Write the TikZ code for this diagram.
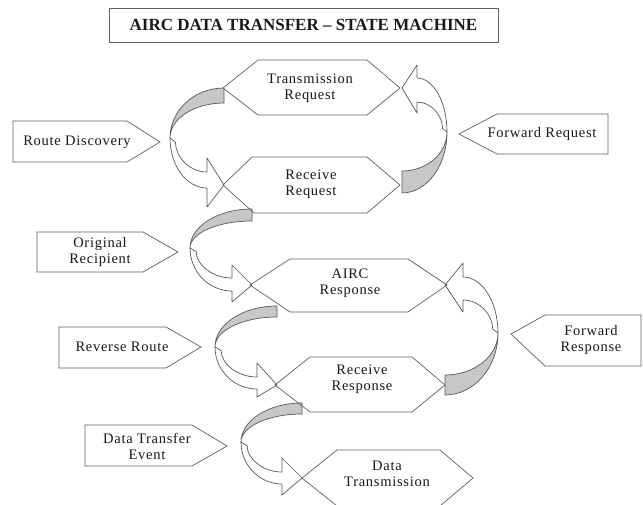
\documentclass[tikz,border=0pt]{standalone}
\usepackage{fontspec}
\setmainfont{Liberation Serif}
\newfontfamily\labelfont[LetterSpace=5]{Liberation Serif}

\newcommand{\bandarrow}[6]{\def\Axs{#1}\def\Ays{#2}\def\At{#3}\def\Axl{#4}\def\Aym{#5}\def\Axb{#6}\bandarrowB}
\newcommand{\bandarrowB}[5]{\def\Ayin{#1}\def\Ayout{#2}\def\Ahout{#3}\def\Ahin{#4}\def\Ayt{#5}\bandarrowdraw}
\newcommand{\bandarrowdraw}{%
  \pgfmathsetmacro\cA{\Axs-0.552*(\Axs-\Axl)}%
  \pgfmathsetmacro\cB{\Aym-0.552*(\Aym-\Ays)}%
  \pgfmathsetmacro\cC{\Aym-0.552*(\Aym-\Ays-\At)}%
  \pgfmathsetmacro\Aysb{\Ays+\At}%
  \pgfmathsetmacro\cD{\Aym+0.552*(\Ayout-\Aym)}%
  \pgfmathsetmacro\cE{\Axb-0.552*(\Axb-\Axl)}%
  \pgfmathsetmacro\Axlp{\Axl+0.1*(\Axs-\Axl)}%
  \pgfmathsetmacro\Aymp{\Aym+0.12*(\Ayin-\Aym)}%
  \pgfmathsetmacro\cF{\Aymp+0.5*(\Ayin-\Aymp)}%
  \pgfmathsetmacro\cG{\Axb-0.552*(\Axb-\Axlp)}%
  \filldraw[graypart] (\Axs,\Ays) .. controls (\cA,\Ays) and (\Axl,\cB) .. (\Axl,\Aym)
     .. controls (\Axl,\cC) and (\cA,\Aysb) .. (\Axs,\Aysb) -- cycle;
  \filldraw[whitepart] (\Axl,\Aym) .. controls (\Axl,\cD) and (\cE,\Ayout) .. (\Axb,\Ayout)
     -- (\Axb,\Ahout) -- (\Axs,\Ayt) -- (\Axb,\Ahin) -- (\Axb,\Ayin)
     .. controls (\cG,\Ayin) and (\Axlp,\cF) .. (\Axlp,\Aymp) -- cycle;
}

\begin{document}
\begin{tikzpicture}[x=1pt,y=-1pt,
  graypart/.style={fill=black!22,draw=black!65,line width=0.7pt,line join=round},
  whitepart/.style={fill=white,draw=black!65,line width=0.7pt,line join=round},
  shapeline/.style={draw=black!62,line width=0.7pt,line join=miter},
  lbl/.style={font=\labelfont\fontsize{14.5}{16}\selectfont,align=center,text=black!90,inner sep=0pt},
  titlebox/.style={draw=black!62,line width=0.8pt,minimum width=389pt,minimum height=34pt,inner sep=0pt,
     font=\bfseries\fontsize{17}{20}\selectfont,text=black!90}]
\fill[white] (0,0) rectangle (643,504);
\useasboundingbox (0,0) rectangle (643,504);
\clip (0,0) rectangle (643,504);

% title
\node[titlebox] (title) at (303.5,25) {AIRC DATA TRANSFER – STATE MACHINE};

% curved block arrows
\bandarrow{224}{88}{15}{170}{138}{207}{172}{188}{207}{158}{185}
\bandarrow{402}{193}{-22}{447}{132}{417}{102}{78}{65}{113}{88}
\bandarrow{252}{209}{12}{190}{248}{232}{278}{291}{302}{265}{285}
\bandarrow{445}{395}{-20}{498}{333}{463}{300}{277}{263}{312}{285}
\bandarrow{277}{306}{11}{215}{347}{257}{377}{389}{397}{363}{385}
\bandarrow{302}{403}{11}{241}{442}{282}{472}{484}{495}{458}{478}

% hexagons (states)
\draw[shapeline] (223,88) -- (258,60) -- (367,60) -- (400,88) -- (367,115) -- (258,115) -- cycle;
\node[lbl] (treq) at (310,88) {Transmission\\Request};
\draw[shapeline] (223,185) -- (252,157) -- (367,157) -- (400,185) -- (367,213) -- (254,213) -- cycle;
\node[lbl] (rreq) at (311,184) {Receive\\Request};
\draw[shapeline] (250,285) -- (290,259) -- (408,259) -- (447,285) -- (408,312) -- (290,312) -- cycle;
\node[lbl] (airc) at (350,283) {AIRC\\Response};
\draw[shapeline] (275,385) -- (310,357) -- (412,357) -- (445,385) -- (412,412) -- (310,412) -- cycle;
\node[lbl] (rresp) at (362,379) {Receive\\Response};
\draw[shapeline] (302,478) -- (337,450) -- (440,450) -- (473,478) -- (440,506) -- (337,506) -- cycle;
\node[lbl] (dtx) at (387,474) {Data\\Transmission};

% pentagons (events)
\draw[shapeline] (13,121) -- (127,121) -- (160,142) -- (127,162) -- (13,162) -- cycle;
\node[lbl] (rdisc) at (77,142) {Route Discovery};
\draw[shapeline] (459,134) -- (497,114) -- (608,114) -- (608,154) -- (497,154) -- cycle;
\node[lbl] (freq) at (542,134) {Forward Request};
\draw[shapeline] (37,232) -- (143,232) -- (178,252) -- (143,272) -- (37,272) -- cycle;
\node[lbl] (orec) at (100,252) {Original\\Recipient};
\draw[shapeline] (59,327) -- (166,327) -- (201,347) -- (166,368) -- (59,368) -- cycle;
\node[lbl] (rroute) at (122,347) {Reverse Route};
\draw[shapeline] (85,425) -- (192,425) -- (227,446) -- (192,466) -- (85,466) -- cycle;
\node[lbl] (dte) at (147,446) {Data Transfer\\Event};
\draw[shapeline] (511,334) -- (545,315) -- (641,315) -- (641,366) -- (545,366) -- cycle;
\node[lbl] (fresp) at (591,340) {Forward\\Response};
\end{tikzpicture}
\end{document}
